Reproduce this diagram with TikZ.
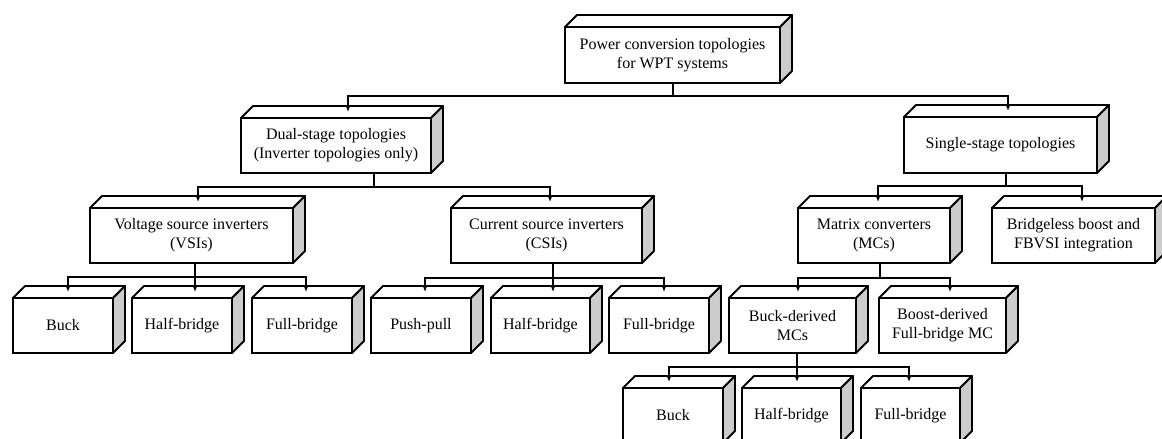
\documentclass[tikz,border=0pt]{standalone}
\usepackage{fontspec}
\setmainfont{Liberation Serif}
\usetikzlibrary{arrows.meta}
\tikzset{
  box/.style={draw, line width=1.8pt, fill=white, inner sep=0pt, outer sep=0pt,
    align=center, font=\fontsize{16}{19}\selectfont},
  conn/.style={line width=1.7pt},
  arr/.style={line width=1.7pt, -{Latex[length=7pt,width=6pt]}},
  topface/.style={fill=white, draw, line width=1.8pt, line join=round},
  sideface/.style={fill=gray!40, draw, line width=1.8pt, line join=round},
}
\newcommand\bx[6]{\node[box, minimum width={#4-#2}, minimum height={#5-#3}] (#1) at ({(#2+#4)/2},{(#3+#5)/2}) {#6};
  \filldraw[topface] (#1.north west) -- ++(12,-12) -- ([shift={(12,-12)}]#1.north east) -- (#1.north east) -- cycle;
  \filldraw[sideface] (#1.north east) -- ++(12,-12) -- ([shift={(12,-12)}]#1.south east) -- (#1.south east) -- cycle;}
\begin{document}
\begin{tikzpicture}[x=1pt,y=-1pt]
\useasboundingbox (0,0) rectangle (1162,439);
\clip (0,0) rectangle (1162,439);
% level 0
\bx{top}{565}{27}{780}{83}{Power conversion topologies\\for WPT systems}
% level 1
\bx{dual}{241}{118}{431}{173}{Dual-stage topologies\\(Inverter topologies only)}
\bx{single}{904}{117}{1097}{173}{Single-stage topologies}
% level 2
\bx{vsi}{90}{208}{293}{263}{Voltage source inverters\\(VSIs)}
\bx{csi}{451}{208}{642}{263}{Current source inverters\\(CSIs)}
\bx{matrix}{798}{208}{950}{263}{Matrix converters\\(MCs)}
\bx{bridgeless}{992}{208}{1155}{263}{Bridgeless boost and\\FBVSI integration}
% level 3
\bx{bucka}{13}{298}{113}{353}{Buck}
\bx{hba}{132}{298}{232}{353}{Half-bridge}
\bx{fba}{252}{298}{352}{353}{Full-bridge}
\bx{pp}{371}{298}{471}{353}{Push-pull}
\bx{hbb}{491}{298}{590}{353}{Half-bridge}
\bx{fbb}{609}{298}{709}{353}{Full-bridge}
\bx{bmc}{729}{298}{856}{353}{Buck-derived\\MCs}
\bx{boost}{879}{298}{1006}{353}{Boost-derived\\Full-bridge MC}
% level 4
\bx{buckb}{623}{388}{723}{443}{Buck}
\bx{hbc}{742}{388}{841}{443}{Half-bridge}
\bx{fbc}{861}{388}{960}{443}{Full-bridge}
% connectors
\draw[conn] ([xshift=0.5pt]top.south) -- ++(0,13) coordinate (j0);
\draw[arr] (j0) -| ([xshift=12pt,yshift=6pt]dual.north);
\draw[arr] (j0) -| ([xshift=7.5pt,yshift=6pt]single.north);
\draw[conn] ([xshift=38pt]dual.south) -- ++(0,14) coordinate (j1);
\draw[arr] (j1) -| ([xshift=6.5pt,yshift=6pt]vsi.north);
\draw[arr] (j1) -| ([xshift=3.5pt,yshift=6pt]csi.north);
\draw[conn] ([xshift=5.5pt]single.south) -- ++(0,13) coordinate (j2);
\draw[arr] (j2) -| ([xshift=4pt,yshift=6pt]matrix.north);
\draw[arr] (j2) -| ([xshift=8.5pt,yshift=6pt]bridgeless.north);
\draw[conn] ([xshift=3.5pt]vsi.south) -- ++(0,14) coordinate (j3);
\draw[arr] (j3) -| ([xshift=5pt,yshift=6pt]bucka.north);
\draw[arr] (j3) -| ([xshift=13pt,yshift=6pt]hba.north);
\draw[arr] (j3) -| ([xshift=4pt,yshift=6pt]fba.north);
\draw[conn] ([xshift=6.5pt]csi.south) -- ++(0,15) coordinate (j4);
\draw[arr] (j4) -| ([xshift=4pt,yshift=6pt]pp.north);
\draw[arr] (j4) -| ([xshift=12.5pt,yshift=6pt]hbb.north);
\draw[arr] (j4) -| ([xshift=5pt,yshift=6pt]fbb.north);
\draw[conn] ([xshift=6pt]matrix.south) -- ++(0,15) coordinate (j5);
\draw[arr] (j5) -| ([xshift=5.5pt,yshift=6pt]bmc.north);
\draw[arr] (j5) -| ([xshift=7.5pt,yshift=6pt]boost.north);
\draw[conn] ([xshift=4.5pt]bmc.south) -- ++(0,14) coordinate (j6);
\draw[arr] (j6) -| ([xshift=-4pt,yshift=6pt]buckb.north);
\draw[arr] (j6) -| ([xshift=5.5pt,yshift=6pt]hbc.north);
\draw[arr] (j6) -| ([xshift=-1.5pt,yshift=6pt]fbc.north);
\end{tikzpicture}
\end{document}
